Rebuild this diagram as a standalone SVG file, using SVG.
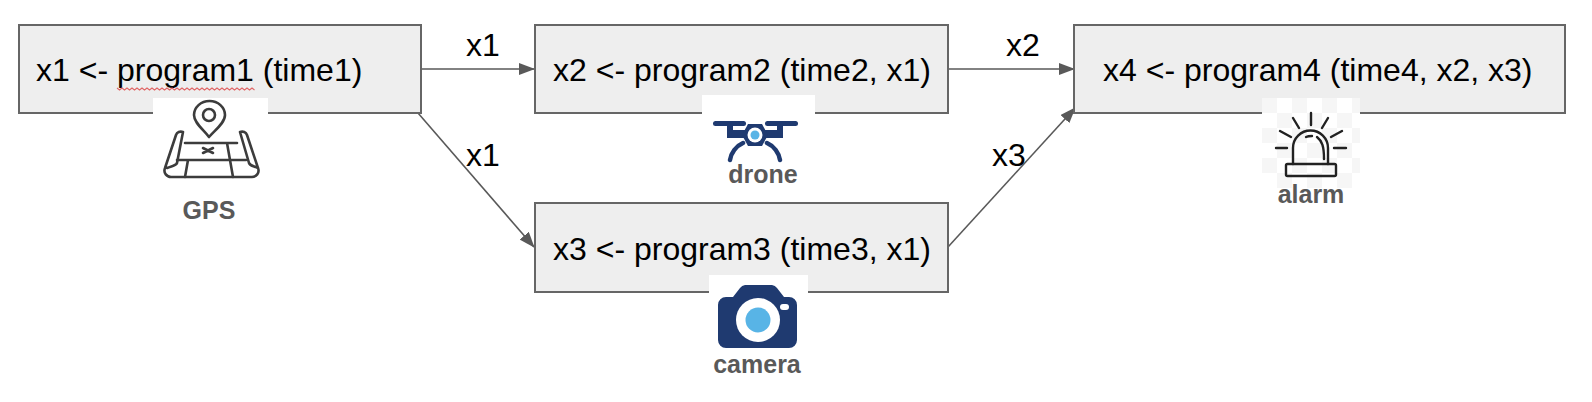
<svg xmlns="http://www.w3.org/2000/svg" width="1592" height="402" viewBox="0 0 1592 402">
<style>
.box{fill:#eeeeee;stroke:#666;stroke-width:2}
.t{font-family:"Liberation Sans",Arial,sans-serif;font-size:32px;fill:#000}
.l{font-family:"Liberation Sans",Arial,sans-serif;font-size:25px;font-weight:bold;fill:#595959;text-anchor:middle}
.c{fill:none;stroke:#595959;stroke-width:1.6}
.i{fill:none;stroke:#3c3c3c;stroke-width:2.6;stroke-linejoin:round;stroke-linecap:round}
.a{fill:none;stroke:#222;stroke-width:2.4;stroke-linejoin:round;stroke-linecap:round}
.navy{fill:#1f3a70}
.sky{fill:#58b4e6}
</style>
<defs>
<marker id="arrow" markerUnits="userSpaceOnUse" markerWidth="16" markerHeight="12" refX="15" refY="6" orient="auto"><path d="M0,0L16,6L0,12Z" fill="#595959"/></marker>
<pattern id="check" width="30" height="30" patternUnits="userSpaceOnUse" x="1262" y="98"><rect width="30" height="30" fill="#fff"/><rect width="15" height="15" fill="#f6f6f6"/><rect x="15" y="15" width="15" height="15" fill="#f6f6f6"/></pattern>
</defs>
<rect width="1592" height="402" fill="#fff"/>
<g id="connectors">
<path class="c" d="M421,69H534" marker-end="url(#arrow)"/>
<path class="c" d="M418,113L534,247" marker-end="url(#arrow)"/>
<path class="c" d="M948,69H1074" marker-end="url(#arrow)"/>
<path class="c" d="M948,247L1075,108" marker-end="url(#arrow)"/>
<text class="t" x="466" y="56">x1</text>
<text class="t" x="466" y="166">x1</text>
<text class="t" x="1006" y="56">x2</text>
<text class="t" x="992" y="166">x3</text>
</g>
<g id="gps">
<rect class="box" x="19" y="25" width="402" height="88"/>
<text class="t" x="36" y="81">x1 &lt;- program1 (time1)</text>
<path d="M117,88l2.500,2 2.500,-2 2.500,2 2.500,-2 2.500,2 2.500,-2 2.500,2 2.500,-2 2.500,2 2.500,-2 2.500,2 2.500,-2 2.500,2 2.500,-2 2.500,2 2.500,-2 2.500,2 2.500,-2 2.500,2 2.500,-2 2.500,2 2.500,-2 2.500,2 2.500,-2 2.500,2 2.500,-2 2.500,2 2.500,-2 2.500,2 2.500,-2 2.500,2 2.500,-2 2.500,2 2.500,-2 2.500,2 2.500,-2 2.500,2 2.500,-2 2.500,2 2.500,-2 2.500,2 2.500,-2 2.500,2 2.500,-2 2.500,2 2.500,-2 2.500,2 2.500,-2 2.500,2 2.500,-2 2.500,2 2.500,-2 2.500,2 2.500,-2 2.500,2" fill="none" stroke="#e06666" stroke-width="1.1"/>
<rect x="153" y="98" width="115" height="104" fill="#fff"/>
<path class="i" d="M209,137c-5,-7 -15,-14 -15,-22a15.500,14 0 0 1 31,0c0,8 -10,15 -16,22Z"/>
<circle class="i" cx="209" cy="115" r="6"/>
<path class="i" d="M183,132c-3,-1 -6,0 -7,3L165,168c-2,5 2,9 6,9H252c4,0 8,-4 6,-9L247,135c-1,-3 -4,-4 -7,-3L249,163c1,3 5,3 9,5M183,132L177,163c-1,3 -6,3 -10,5"/>
<path class="i" d="M185,143H237M177,160H246M188,160l-3,17M227,143l6,34"/>
<path class="i" d="M203,148l10,5M213,148l-10,5"/>
<text class="l" x="209" y="219">GPS</text>
</g>
<g id="drone">
<rect class="box" x="535" y="25" width="413" height="88"/>
<text class="t" x="553" y="81">x2 &lt;- program2 (time2, x1)</text>
<rect x="702" y="95" width="113" height="72" fill="#fff"/>
<rect class="navy" x="713" y="121" width="33" height="5" rx="2.500"/>
<rect class="navy" x="765" y="121" width="33" height="5" rx="2.500"/>
<path class="navy" d="M727,125h6v7h-6zM777,125h6v7h-6zM727,130h22v8h-22zM761,130h22v8h-22z"/>
<path class="navy" d="M748,124h14l6,11l-6,11h-14l-6,-11Z"/>
<circle cx="755" cy="135" r="7.500" fill="#fff"/>
<circle class="sky" cx="755" cy="135" r="4.500"/>
<path d="M743,143c-7,3 -12,10 -13,17M767,143c7,3 12,10 13,17" fill="none" stroke="#1f3a70" stroke-width="4.500" stroke-linecap="round"/>
<text class="l" x="763" y="183">drone</text>
</g>
<g id="camera">
<rect class="box" x="535" y="203" width="413" height="89"/>
<text class="t" x="553" y="260">x3 &lt;- program3 (time3, x1)</text>
<rect x="709" y="275" width="99" height="76" fill="#fff"/>
<path class="navy" d="M726,297h7l7,-9a7,7 0 0 1 5,-3h27a7,7 0 0 1 5,3l7,9h5a8,8 0 0 1 8,8v35a8,8 0 0 1 -8,8H726a8,8 0 0 1 -8,-8v-35a8,8 0 0 1 8,-8Z"/>
<circle cx="758" cy="320" r="22" fill="#fff"/>
<circle class="sky" cx="758" cy="320" r="12.500"/>
<rect x="780" y="304" width="9" height="6" rx="3" fill="#fff"/>
<text class="l" x="757" y="373">camera</text>
</g>
<g id="alarm">
<rect class="box" x="1074" y="25" width="491" height="88"/>
<text class="t" x="1103" y="81">x4 &lt;- program4 (time4, x2, x3)</text>
<rect x="1262" y="98" width="98" height="90" fill="url(#check)"/>
<path class="a" d="M1311,113v12M1293,118l6,10M1328,118l-6,10M1280,131l11,6M1342,131l-11,6M1276,148h11M1334,148h12"/>
<path class="a" d="M1293,164v-16a17.500,17.500 0 0 1 35,0v16"/>
<path class="a" d="M1306,137c2,-1 4,-1 6,-1M1317,137c5,4 7,9 7,22"/>
<rect class="a" x="1286" y="164" width="50" height="12" rx="1.500"/>
<text class="l" x="1311" y="203">alarm</text>
</g>
</svg>
